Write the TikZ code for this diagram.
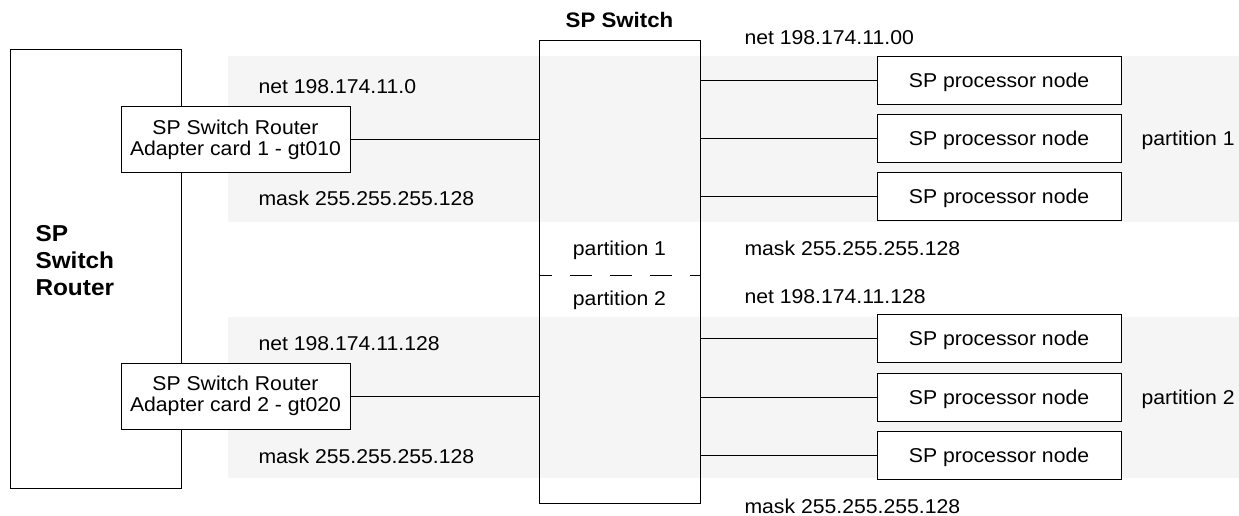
\documentclass[tikz,border=0pt]{standalone}
\usepackage{fontspec}
\setmainfont{Liberation Sans}[FakeStretch=1.06]
\usetikzlibrary{positioning}

\definecolor{bandgray}{gray}{0.96}

\begin{document}
\begin{tikzpicture}[x=1pt, y=-1pt, line width=1pt,
    font=\fontsize{20}{23}\selectfont,
    box/.style={draw, fill=white, inner sep=0pt},
    procbox/.style={box, minimum width=244pt, minimum height=48pt, text depth=0pt},
    cardbox/.style={box, minimum width=229pt, minimum height=66pt, align=center, font=\fontsize{20}{21}\selectfont},
    lbl/.style={anchor=west, inner sep=0pt}]
	\useasboundingbox (0,0) rectangle (1239,515);
	% the two shaded nets
	\fill[bandgray] (228,56) rectangle (1239,222);
	\fill[bandgray] (228,317) rectangle (1239,478);
	% router and switch frames
	\node[draw, minimum width=171pt, minimum height=439pt] (router) at (95.5,268.5) {};
	\node[lbl, align=left, font=\bfseries\fontsize{23}{27}\selectfont] (routerlbl) at (35,261) {SP\\Switch\\Router};
	\node[draw, minimum width=161pt, minimum height=463pt] (switch) at (619.5,271.5) {};
	\node[inner sep=0pt, font=\bfseries\fontsize{21}{24}\selectfont] (title) at (619.5,20) {SP Switch};
	% adapter cards
	\node[cardbox] (card1) at (235.5,139.5) {SP Switch Router\\Adapter card 1 - gt010};
	\node[cardbox] (card2) at (235.5,396) {SP Switch Router\\Adapter card 2 - gt020};
	\draw (card1.east) -- (card1.east -| switch.west);
	\draw (card2.east) -- (card2.east -| switch.west);
	% processor nodes
	\foreach \i/\y in {1/80, 2/138.5, 3/196.5, 4/338.5, 5/397.5, 6/455.5} {
		\node[procbox] (proc\i) at (999,\y) {SP processor node};
		\draw (proc\i.west) -- (proc\i.west -| switch.east);
	}
	% partition divider
	\coordinate (divider) at (619.5,275);
	\draw[dash pattern=on 22pt off 18pt, dash phase=9pt] (divider -| switch.west) -- (divider -| switch.east);
	\node[inner sep=0pt, text depth=0pt] (part1) at (619.5,248) {partition 1};
	\node[inner sep=0pt, text depth=0pt] (part2) at (619.5,298) {partition 2};
	% net labels
	\node[lbl] (net1) at (258,87) {net 198.174.11.0};
	\node[lbl] (mask1) at (258,198) {mask 255.255.255.128};
	\node[lbl] (net2) at (258,344) {net 198.174.11.128};
	\node[lbl] (mask2) at (258,456) {mask 255.255.255.128};
	\node[lbl] (netr1) at (744,38) {net 198.174.11.00};
	\node[lbl] (maskr1) at (744,248) {mask 255.255.255.128};
	\node[lbl] (netr2) at (744,297) {net 198.174.11.128};
	\node[lbl] (maskr2) at (744,506) {mask 255.255.255.128};
	\node[lbl, text depth=0pt] (pname1) at (1141,138) {partition 1};
	\node[lbl, text depth=0pt] (pname2) at (1141,397) {partition 2};
\end{tikzpicture}
\end{document}
